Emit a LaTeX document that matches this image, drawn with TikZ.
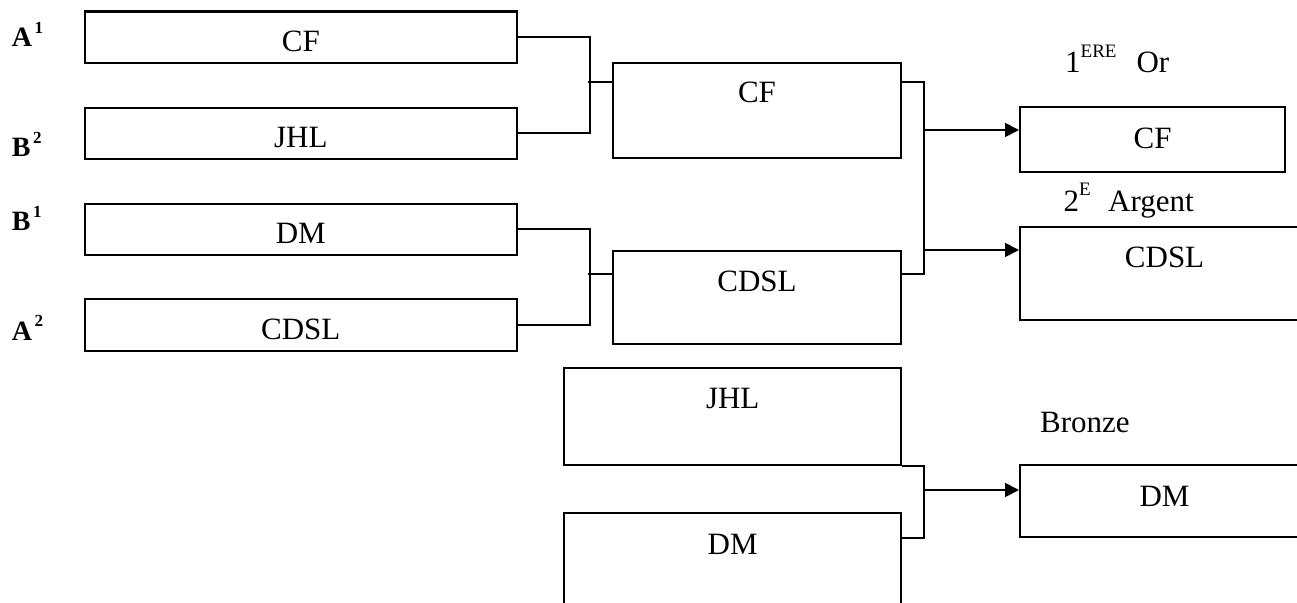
\documentclass[tikz,border=0pt]{standalone}
\usepackage{fontspec}
\setmainfont{Liberation Serif}
\usetikzlibrary{arrows.meta}
\tikzset{
  bx/.style={draw, line width=2.1pt, inner sep=0pt, anchor=north west, font=\fontsize{31}{36}\selectfont},
  conn/.style={line width=1.8pt},
  arr/.style={conn, -{Triangle[length=14pt,width=14pt]}},
  seed/.style={anchor=base west, inner sep=0pt, font=\bfseries\fontsize{28}{30}\selectfont},
  lbl/.style={anchor=base west, inner sep=0pt, font=\fontsize{31}{36}\selectfont},
}
\newcommand{\seedsup}[1]{\kern2.5pt\raisebox{13.5pt}{\bfseries\fontsize{17}{17}\selectfont #1}}
\newcommand{\ttlsup}[1]{\raisebox{15.4pt}{\fontsize{19}{19}\selectfont #1}}
\begin{document}
\begin{tikzpicture}[x=1pt,y=-1pt]
\useasboundingbox (0,0) rectangle (1297,602);
\clip (0,0) rectangle (1297,602);

% first round
\node[bx, minimum width=432.5pt, text height=40pt, text depth=11.5pt] (cfA) at (83.5,10.5) {CF};
\node[bx, minimum width=432.5pt, text height=40pt, text depth=11pt] (jhlA) at (83.5,106.5) {JHL};
\node[bx, minimum width=432.5pt, text height=40pt, text depth=11pt] (dmA) at (83.5,202.5) {DM};
\node[bx, minimum width=432.5pt, text height=40pt, text depth=11.5pt] (cdslA) at (83.5,298.3) {CDSL};

% seeds
\node[seed] (sA1) at (11.7,46.7) {A\seedsup{1}};
\node[seed] (sB2) at (11.7,156.5) {B\seedsup{2}};
\node[seed] (sB1) at (11.7,230.5) {B\seedsup{1}};
\node[seed] (sA2) at (11.7,340) {A\seedsup{2}};

% second round
\node[bx, minimum width=288.5pt, text height=40pt, text depth=55.6pt] (cfB) at (611.7,61.7) {CF};
\node[bx, minimum width=288.5pt, text height=40.7pt, text depth=52.6pt] (cdslB) at (611.7,250) {CDSL};

% bronze match
\node[bx, minimum width=336.7pt, text height=40.5pt, text depth=56.2pt] (jhlC) at (563.3,367.3) {JHL};
\node[bx, minimum width=336.7pt, text height=41.6pt, text depth=55pt] (dmC) at (563.3,511.7) {DM};

% finals
\node[bx, minimum width=265pt, text height=41.3pt, text depth=23.4pt] (cfF) at (1019,106) {CF};
\node[bx, minimum width=289pt, text height=40.7pt, text depth=52.6pt] (cdslF) at (1019,226) {CDSL};
\node[bx, minimum width=289pt, text height=41pt, text depth=31pt] (dmF) at (1019,464) {DM};

% titles
\node[lbl] (t1) at (1065,72.7) {1\ttlsup{ERE}\hspace{20pt}Or};
\node[lbl] (t2) at (1063.3,211) {2\ttlsup{E}\hspace{17.5pt}Argent};
\node[lbl] (t3) at (1040,432.7) {Bronze};

% brackets first round
\draw[conn] (cfA.east) -- ++(72,0) |- (jhlA.east);
\coordinate (m1) at (588,82);
\draw[conn] (m1) -- (m1 -| cfB.west);
\draw[conn] (dmA.east) -- ++(72,0) |- (cdslA.east);
\coordinate (m2) at (588,274);
\draw[conn] (m2) -- (m2 -| cdslB.west);

% final bracket
\coordinate (r1) at (924,82);
\coordinate (r2) at (924,274);
\draw[conn] (r1 -| cfB.east) -- (r1) -- (r2) -- (r2 -| cdslB.east);
\coordinate (a1) at (924,130);
\draw[arr] (a1) -- (a1 -| cfF.west);
\coordinate (a2) at (924,250);
\draw[arr] (a2) -- (a2 -| cdslF.west);

% bronze bracket
\coordinate (b1) at (924,466);
\coordinate (b2) at (924,538);
\draw[conn] (b1 -| jhlC.east) -- (b1) -- (b2) -- (b2 -| dmC.east);
\coordinate (a3) at (924,490);
\draw[arr] (a3) -- (a3 -| dmF.west);
\end{tikzpicture}
\end{document}
